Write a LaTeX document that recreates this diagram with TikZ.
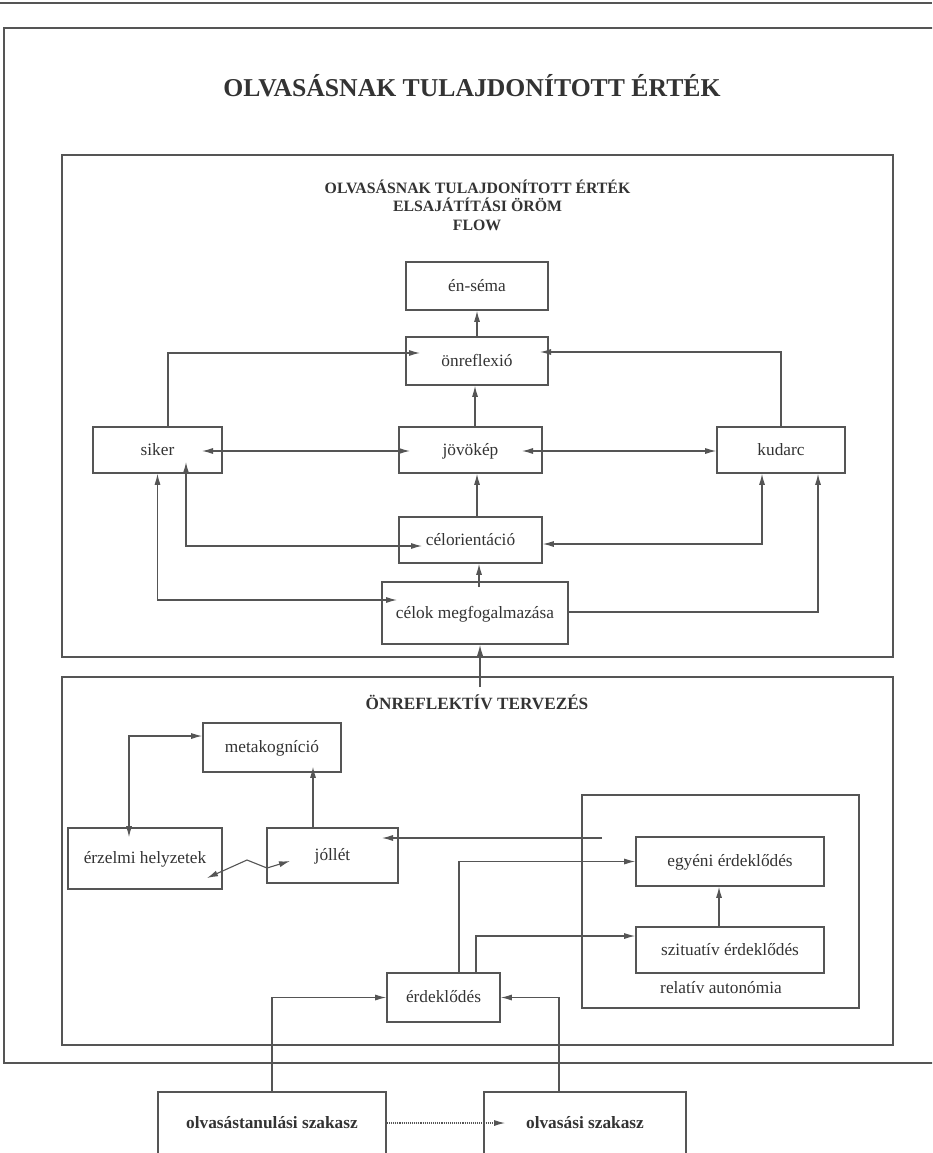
\documentclass[tikz,border=0pt]{standalone}
\usepackage{fontspec}
\setmainfont{Liberation Serif}
\usetikzlibrary{arrows.meta}
\definecolor{ln}{HTML}{555555}
\definecolor{tx}{HTML}{333333}
\begin{document}
\begin{tikzpicture}[x=1pt,y=-1pt,
  frame/.style={draw=ln,line width=1.8pt},
  container/.style={draw=ln,line width=1.6pt,inner sep=0pt},
  box/.style={draw=ln,line width=1.6pt,inner sep=0pt,text=tx,
    font=\fontsize{17.3}{20}\selectfont,text height=13pt,text depth=3pt},
  bbox/.style={box,font=\fontsize{17.3}{20}\selectfont\bfseries},
  lbl/.style={text=tx,inner sep=0pt,anchor=base},
  arr/.style={draw=ln,line width=1.1pt,-{Latex[length=11pt,width=6pt]}},
  darr/.style={draw=ln,line width=1.1pt,{Latex[length=11pt,width=6pt]}-{Latex[length=11pt,width=6pt]}}
]
\useasboundingbox (0,0) rectangle (932,1153);
\fill[white] (0,0) rectangle (932,1153);
\clip (0,0) rectangle (932,1153);

% outer frame
\draw[frame,line width=1.4pt] (0,3) -- (932,3);
\draw[frame] (934,28) -- (4,28) -- (4,1063) -- (934,1063);

% containers
\node[container,minimum width=831pt,minimum height=502pt] (upper) at (477.5,406) {};
\node[container,minimum width=831pt,minimum height=368pt] (lower) at (477.5,861) {};
\node[container,minimum width=277pt,minimum height=213pt] (rel) at (720.5,901.5) {};

% titles
\node[lbl,font=\fontsize{25.7}{28}\selectfont\bfseries] (title) at (472,97) {OLVASÁSNAK TULAJDONÍTOTT ÉRTÉK};
\node[lbl,font=\fontsize{15.8}{18}\selectfont\bfseries] (h1) at (477.5,193) {OLVASÁSNAK TULAJDONÍTOTT ÉRTÉK};
\node[lbl,font=\fontsize{15.8}{18}\selectfont\bfseries] (h2) at (477.5,211.5) {ELSAJÁTÍTÁSI ÖRÖM};
\node[lbl,font=\fontsize{15.8}{18}\selectfont\bfseries] (h3) at (477,230) {FLOW};
\node[lbl,font=\fontsize{17.2}{20}\selectfont\bfseries] (h4) at (477,709) {ÖNREFLEKTÍV TERVEZÉS};
\node[lbl,font=\fontsize{17.3}{20}\selectfont] (reltxt) at (721,993) {relatív autonómia};

% upper boxes
\node[box,minimum width=142pt,minimum height=48pt] (ensema) at (477,286) {én-séma};
\node[box,minimum width=142pt,minimum height=48pt] (onref) at (477,361) {önreflexió};
\node[box,minimum width=129pt,minimum height=46pt] (siker) at (157.5,450) {siker};
\node[box,minimum width=143pt,minimum height=46pt] (jovo) at (470.5,450) {jövökép};
\node[box,minimum width=128pt,minimum height=46pt] (kudarc) at (781,450) {kudarc};
\node[box,minimum width=143pt,minimum height=46pt] (celor) at (470.5,540) {célorientáció};
\node[box,minimum width=186pt,minimum height=62pt] (celok) at (475,613) {célok megfogalmazása};

% lower boxes
\node[box,minimum width=138pt,minimum height=49pt] (meta) at (272,747.5) {metakogníció};
\node[box,minimum width=154pt,minimum height=61pt] (erzelmi) at (145,858.5) {érzelmi helyzetek};
\node[box,minimum width=131pt,minimum height=55pt] (jollet) at (332.5,855.5) {jóllét};
\node[box,minimum width=188pt,minimum height=49pt] (egyeni) at (730,861.5) {egyéni érdeklődés};
\node[box,minimum width=188pt,minimum height=46pt] (szit) at (730,950) {szituatív érdeklődés};
\node[box,minimum width=113pt,minimum height=49pt] (erd) at (443.5,997.5) {érdeklődés};
\node[bbox,minimum width=228pt,minimum height=62pt] (olvt) at (272,1123) {olvasástanulási szakasz};
\node[bbox,minimum width=202pt,minimum height=62pt] (olv) at (585,1123) {olvasási szakasz};

% free ends
\coordinate (lowstart) at (480,687);
\coordinate (jstart) at (602,838);
\coordinate (z1) at (247,860);
\coordinate (z2) at (267,868);

% upper connectors
\draw[arr] (onref) -- (ensema);
\draw[arr] ([xshift=4.5pt]jovo.north) -- ([xshift=-2pt]onref.south);
\draw[arr] ([xshift=10.5pt]siker.north) |- ([xshift=-57pt,yshift=8pt]onref.center);
\draw[arr] (kudarc.north) |- ([xshift=63pt,yshift=9pt]onref.center);
\draw[darr] ([xshift=44.5pt,yshift=-1pt]siker.center) -- ([xshift=-60.5pt,yshift=-1pt]jovo.center);
\draw[darr] ([xshift=51.5pt,yshift=-1pt]jovo.center) -- ([yshift=-1pt]kudarc.west);
\draw[arr] ([xshift=6.5pt]celor.north) -- ([xshift=6.5pt]jovo.south);
\draw[arr] ([xshift=4pt,yshift=-6pt]celok.north) -- ([xshift=8.5pt]celor.south);
\draw[darr] ([xshift=28.5pt,yshift=-12pt]siker.center) |- ([xshift=-48.5pt,yshift=-6pt]celor.center);
\draw[darr] (siker.south) |- ([xshift=-78pt,yshift=13pt]celok.center);
\draw[darr] ([yshift=-4pt]celor.east) -| ([xshift=-19pt]kudarc.south);
\draw[arr] ([yshift=1pt]celok.east) -| ([xshift=37pt]kudarc.south);
\draw[arr] (lowstart) -- (lowstart |- celok.south);

% lower connectors
\draw[darr] ([yshift=11.5pt]meta.west) -| ([xshift=-16pt,yshift=-10pt]erzelmi.north);
\draw[arr] ([xshift=-19.5pt]jollet.north) -- ([xshift=41pt,yshift=6pt]meta.south);
\draw[darr] ([xshift=62pt,yshift=-19.5pt]erzelmi.center) -- (z1) -- (z2) -- ([xshift=-42.5pt,yshift=-5.5pt]jollet.center);
\draw[arr] (jstart) -- ([xshift=49.5pt,yshift=17.5pt]jollet.center);
\draw[arr] ([xshift=15.5pt]erd.north) |- (egyeni.west);
\draw[arr] ([xshift=32.5pt]erd.north) |- ([yshift=14pt]szit.west);
\draw[arr] ([xshift=-11pt]szit.north) -- ([xshift=-11pt]egyeni.south);
\draw[arr] (olvt.north) |- (erd.west);
\draw[arr] ([xshift=-26pt]olv.north) |- (erd.east);
\draw[arr,densely dotted,line width=1.3pt] (olvt.east) -- ([xshift=22pt]olv.west);
\end{tikzpicture}
\end{document}
